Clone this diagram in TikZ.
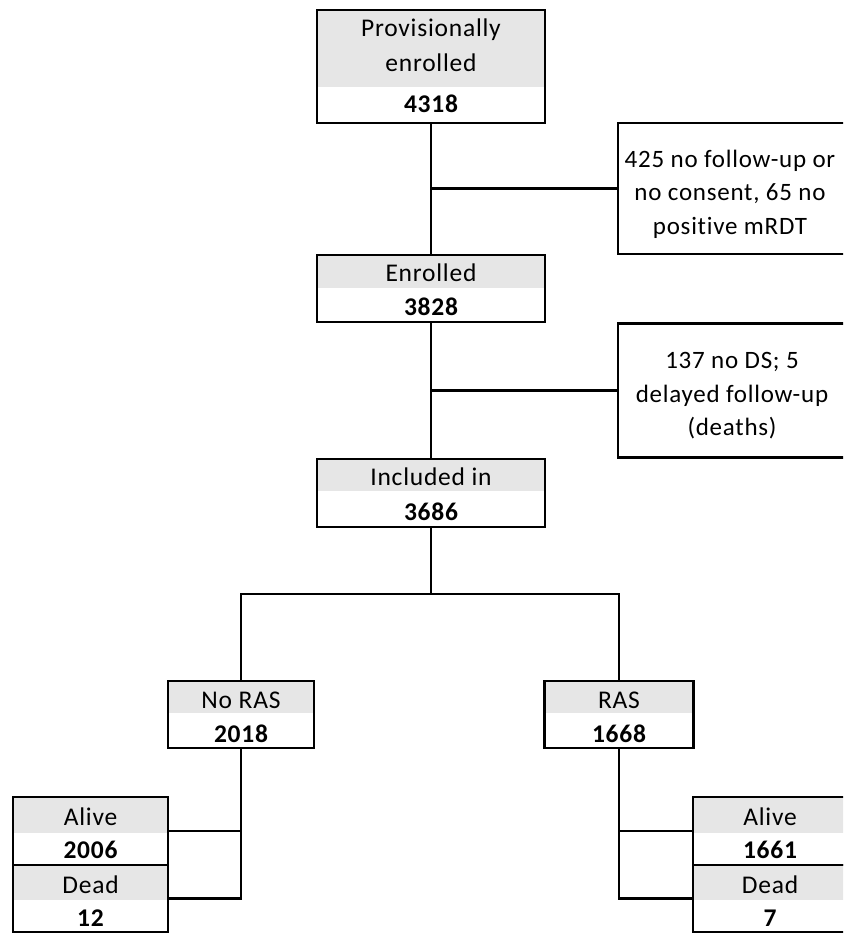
\documentclass[tikz,border=0pt]{standalone}
\usepackage{fontspec}
\setmainfont{Carlito}[LetterSpace=3,Ligatures=NoCommon]
\definecolor{hdr}{RGB}{230,230,230}
\begin{document}
\begin{tikzpicture}[x=1pt,y=-1pt,
  box/.style={draw=black, line width=2.8pt, inner sep=0pt, rectangle, fill=white},
  hbox/.style={box, path picture={\fill[hdr] (path picture bounding box.north west) rectangle ([yshift=-#1]path picture bounding box.north east);}},
  conn/.style={draw=black, line width=2.7pt},
  txt/.style={anchor=base, inner sep=0pt, font=\fontsize{25.5}{29}\selectfont},
  stxt/.style={anchor=base, inner sep=0pt, font=\fontsize{25}{29}\selectfont},
  num/.style={anchor=base, inner sep=0pt, font=\fontsize{25.5}{29}\selectfont\bfseries}]
\useasboundingbox (0,0) rectangle (843,933);
\clip (0,0) rectangle (843,933);

% boxes
\node[hbox=77pt, minimum width=228pt, minimum height=113pt] (top) at (431,66.5) {};
\node[box, minimum width=228pt, minimum height=131pt] (side1) at (732,188.5) {};
\node[hbox=33pt, minimum width=228pt, minimum height=67pt] (enr) at (431,288.5) {};
\node[box, minimum width=228pt, minimum height=134pt] (side2) at (732,390.5) {};
\node[hbox=32pt, minimum width=228pt, minimum height=68pt] (inc) at (431,493) {};
\node[hbox=32pt, minimum width=146pt, minimum height=67pt] (noras) at (241,714.5) {};
\node[hbox=32pt, minimum width=149pt, minimum height=67pt] (ras) at (619,714.5) {};
\node[hbox=36pt, minimum width=155pt, minimum height=68pt] (la) at (90.5,831) {};
\node[hbox=35pt, minimum width=155pt, minimum height=67pt] (ld) at (90.5,898.5) {};
\node[hbox=36pt, minimum width=154pt, minimum height=68pt] (ra) at (770,831) {};
\node[hbox=35pt, minimum width=154pt, minimum height=67pt] (rd) at (770,898.5) {};

% texts
\node[txt] (t1) at (431,37) {Provisionally};
\node[txt] (t2) at (431,72) {enrolled};
\node[num] (n1) at (431,113) {4318};
\node[stxt] (s1a) at (730,168) {425 no follow-up or};
\node[stxt] (s1b) at (730,201) {no consent, 65 no};
\node[stxt] (s1c) at (730,234) {positive mRDT};
\node[txt] (t3) at (431,281) {Enrolled};
\node[num] (n2) at (431,315) {3828};
\node[stxt] (s2a) at (732,368) {137 no DS; 5};
\node[stxt] (s2b) at (732,402) {delayed follow-up};
\node[stxt] (s2c) at (732,435) {(deaths)};
\node[txt] (t4) at (431,485) {Included in};
\node[num] (n3) at (431,520) {3686};
\node[txt] (t5) at (241,708) {No RAS};
\node[num] (n4) at (241,742) {2018};
\node[txt] (t6) at (619,708) {RAS};
\node[num] (n5) at (619,742) {1668};
\node[txt] (t7) at (90.5,825) {Alive};
\node[num] (n6) at (90.5,858) {2006};
\node[txt] (t8) at (90.5,893) {Dead};
\node[num] (n7) at (90.5,926) {12};
\node[txt] (t9) at (770,825) {Alive};
\node[num] (n8) at (770,858) {1661};
\node[txt] (t10) at (770,893) {Dead};
\node[num] (n9) at (770,926) {7};

% connectors
\draw[conn] (top.south) -- (enr.north);
\draw[conn] (side1.west) -- (side1.west -| top.south);
\draw[conn] (enr.south) -- (inc.north);
\draw[conn] (side2.west) -- (side2.west -| enr.south);
\coordinate (br) at (431,594);
\draw[conn] (inc.south) -- (br);
\draw[conn] (noras.north) |- (br) -| (ras.north);
\draw[conn] (noras.south) |- (ld.east);
\draw[conn] (la.east) -- (la.east -| noras.south);
\draw[conn] (ras.south) |- (rd.west);
\draw[conn] (ra.west) -- (ra.west -| ras.south);
\end{tikzpicture}
\end{document}
